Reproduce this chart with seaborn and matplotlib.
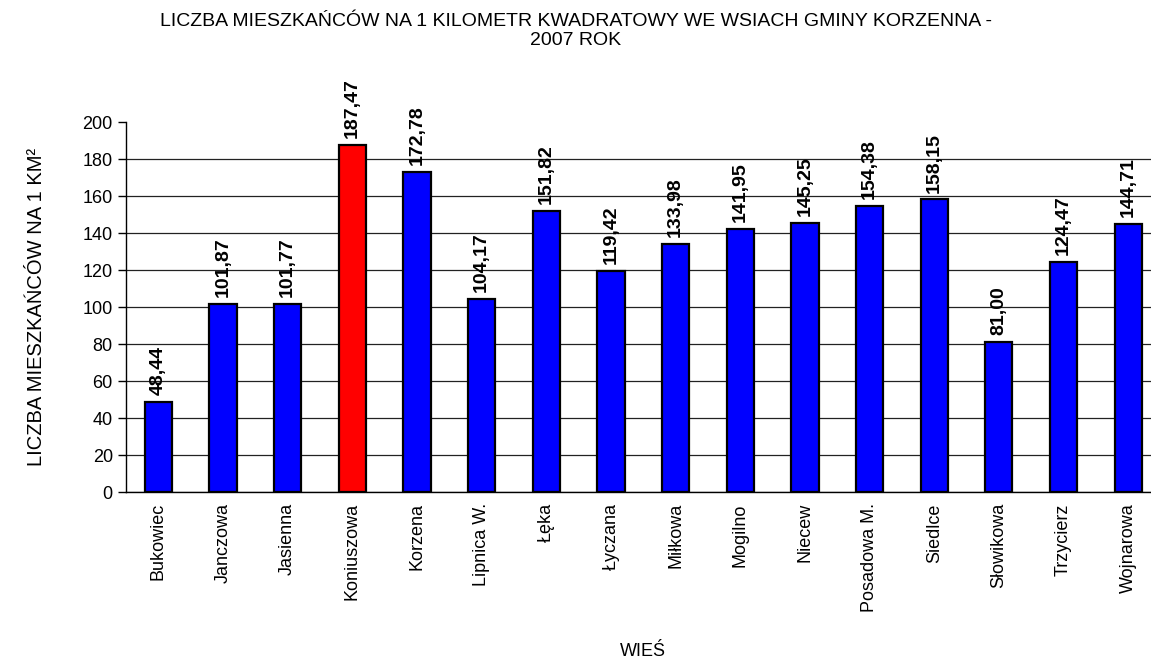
import seaborn as sns
import numpy as np
import matplotlib.pyplot as plt

villages = ['Bukowiec', 'Janczowa', 'Jasienna', 'Koniuszowa', 'Korzena', 'Lipnica W.',
            'Łęka', 'Łyczana', 'Miłkowa', 'Mogilno', 'Niecew', 'Posadowa M.',
            'Siedlce', 'Słowikowa', 'Trzycierz', 'Wojnarowa']
density = [48.44, 101.87, 101.77, 187.47, 172.78, 104.17, 151.82, 119.42,
           133.98, 141.95, 145.25, 154.38, 158.15, 81.00, 124.47, 144.71]
highlight = 'Koniuszowa'
y_ticks = list(range(0, 201, 20))

sns.set_style('white')
plt.rcParams['font.family'] = ['Liberation Sans', 'DejaVu Sans']
plt.rcParams.update({'text.color': 'black', 'axes.labelcolor': 'black',
                     'xtick.color': 'black', 'ytick.color': 'black'})

fig = plt.figure(figsize=(11.51, 6.64), dpi=100)
ax = fig.add_axes([0.1095, 0.259, 0.8988, 0.5572])

palette = {v: ('#FF0000' if v == highlight else '#0000FF') for v in villages}
sns.barplot(x=villages, y=density, hue=villages, palette=palette, legend=False,
            width=0.42, edgecolor='black', linewidth=1.6, saturation=1, ax=ax)

for c in ax.containers:
    ax.bar_label(c, labels=[f"{b.get_height():.2f}".replace('.', ',') for b in c],
                 rotation=90, padding=5, fontsize=14, fontweight='bold', color='black')

ax.set_ylim(0, 200)
ax.set_xlim(-0.5, len(villages) - 0.5)
ax.set_yticks(y_ticks)
ax.yaxis.grid(True, color='#222222', linewidth=0.9)
ax.get_ygridlines()[-1].set_visible(False)
ax.set_axisbelow(True)

ax.set_xticks(range(len(villages)))
ax.set_xticklabels(villages, rotation=90, fontsize=13)
ax.set_xticks(np.arange(-0.5, len(villages)), minor=True)
ax.tick_params(axis='x', which='major', length=0, pad=8)
ax.tick_params(axis='x', which='minor', length=6, width=1, color='black', direction='out')
ax.tick_params(axis='y', length=6, width=1, color='black', direction='out', labelsize=13)
ax.tick_params(bottom=True, left=True)

for s in ['top', 'right']:
    ax.spines[s].set_visible(False)
for s in ['left', 'bottom']:
    ax.spines[s].set_color('black')
    ax.spines[s].set_linewidth(1)

ax.set_ylabel('LICZBA MIESZKAŃCÓW NA 1 KM²', fontsize=14.5, labelpad=26)
ax.set_xlabel('WIEŚ', fontsize=13, labelpad=22)
fig.text(0.5, 0.953, 'LICZBA MIESZKAŃCÓW NA 1 KILOMETR KWADRATOWY WE WSIACH GMINY KORZENNA -\n2007 ROK',
         ha='center', va='center', fontsize=14, linespacing=1.15)

fig.savefig('out.png', dpi=100)
